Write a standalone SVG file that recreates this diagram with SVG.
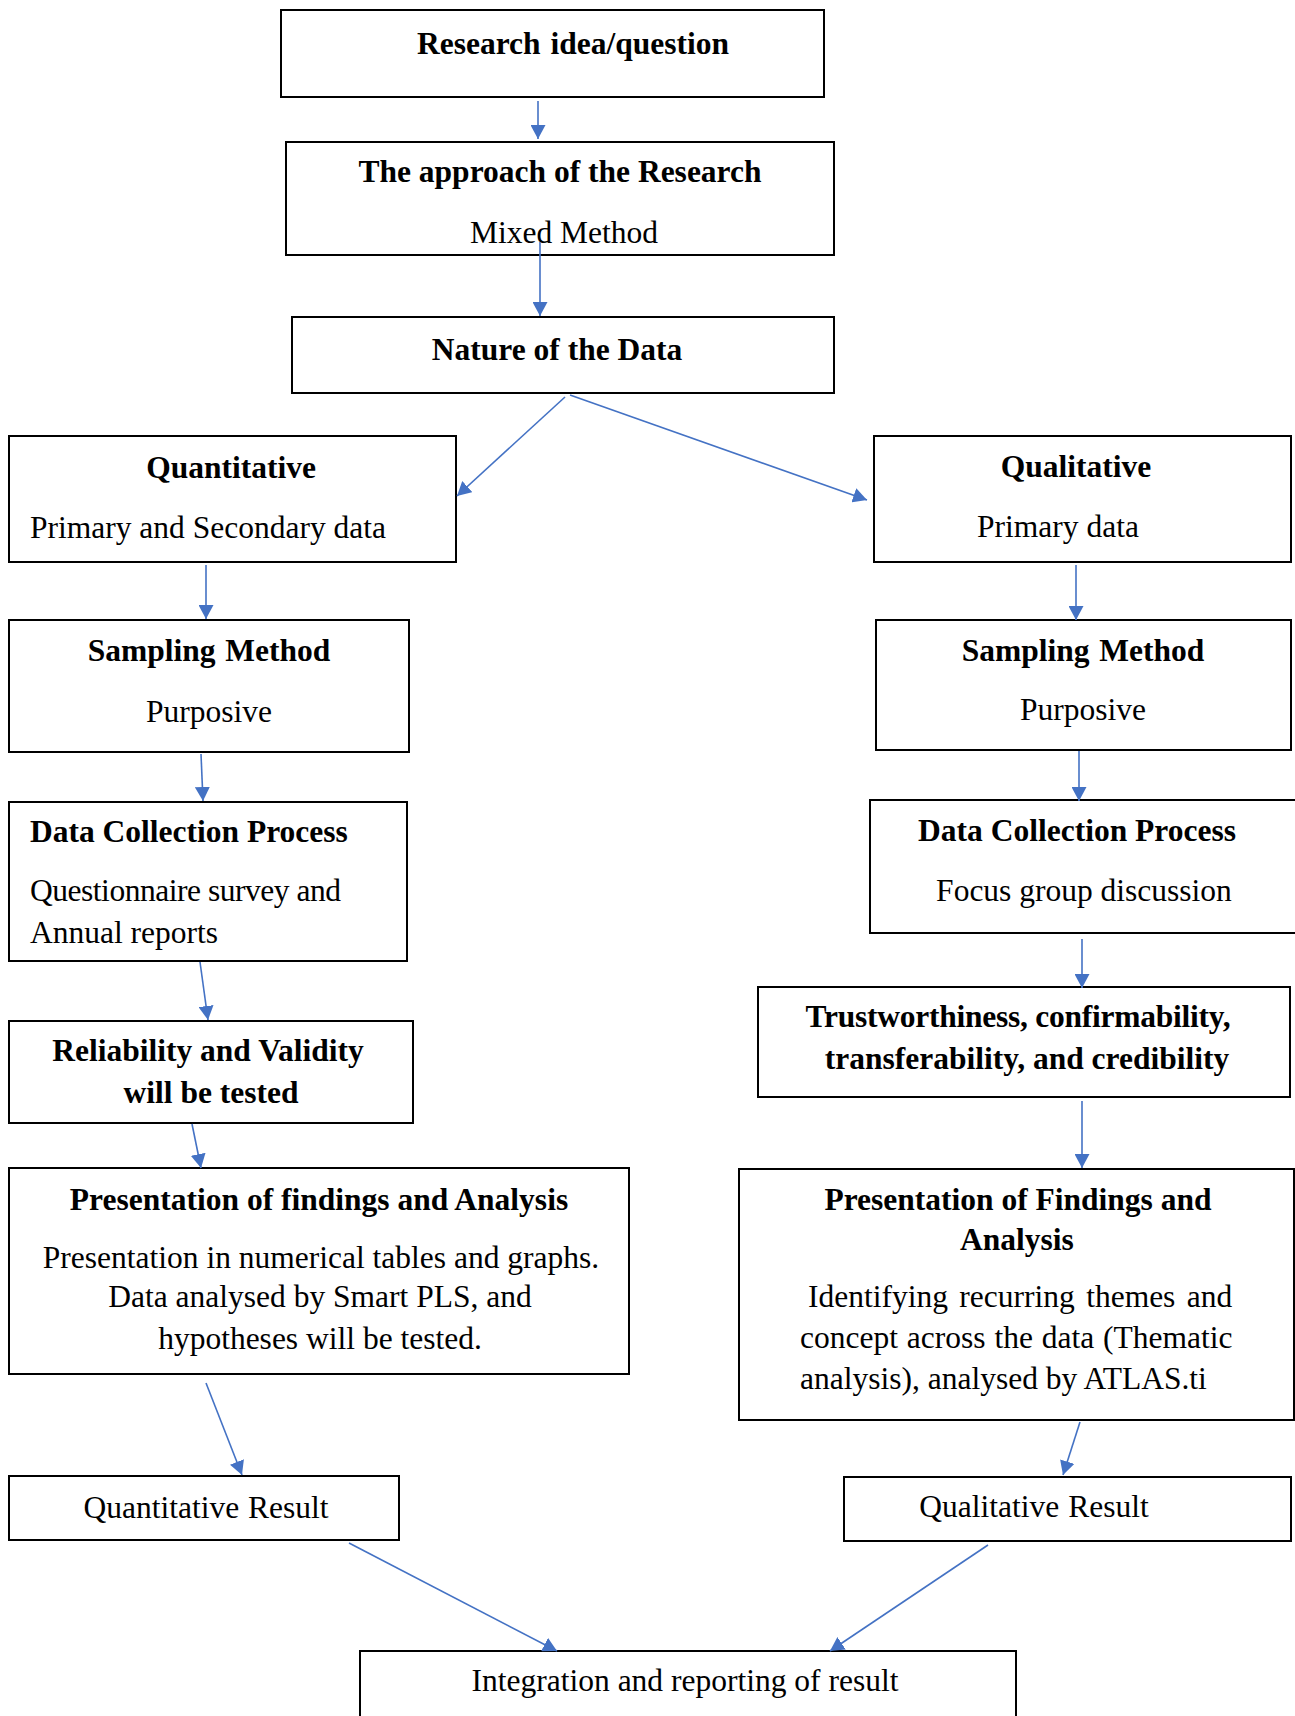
<svg xmlns="http://www.w3.org/2000/svg" width="1295" height="1716" viewBox="0 0 1295 1716">
<style>
  .box { fill: #ffffff; stroke: #000000; stroke-width: 2; }
  .t { font-family: "Liberation Serif", "Times New Roman", serif; font-size: 31.5px; fill: #000000; }
  .b { font-weight: bold; }
  .m { text-anchor: middle; }
  .conn line { stroke: #4472C4; stroke-width: 1.6; fill: none; marker-end: url(#arr); }
</style>
<defs>
  <marker id="arr" viewBox="0 0 14 15" refX="14" refY="7.5" markerWidth="14" markerHeight="15" markerUnits="userSpaceOnUse" orient="auto">
    <path d="M0,0 L14,7.5 L0,15 z" fill="#4472C4"/>
  </marker>
</defs>
<rect width="1295" height="1716" fill="#ffffff"/>

<g id="n-research">
  <rect class="box" x="281" y="10" width="543" height="87"/>
  <text class="t b m" x="573" y="54" word-spacing="2">Research idea/question</text>
</g>
<g id="n-approach">
  <rect class="box" x="286" y="142" width="548" height="113"/>
  <text class="t b m" x="560" y="182">The approach of the Research</text>
  <text class="t m" x="564" y="243">Mixed Method</text>
</g>
<g id="n-nature">
  <rect class="box" x="292" y="317" width="542" height="76"/>
  <text class="t b m" x="557" y="360">Nature of the Data</text>
</g>
<g id="n-quant">
  <rect class="box" x="9" y="436" width="447" height="126"/>
  <text class="t b m" x="231" y="478">Quantitative</text>
  <text class="t m" x="208" y="538">Primary and Secondary data</text>
</g>
<g id="n-qual">
  <rect class="box" x="874" y="436" width="417" height="126"/>
  <text class="t b m" x="1076" y="477">Qualitative</text>
  <text class="t m" x="1058" y="537">Primary data</text>
</g>
<g id="n-sampling-l">
  <rect class="box" x="9" y="620" width="400" height="132"/>
  <text class="t b m" x="209" y="661" word-spacing="2">Sampling Method</text>
  <text class="t m" x="209" y="722">Purposive</text>
</g>
<g id="n-sampling-r">
  <rect class="box" x="876" y="620" width="415" height="130"/>
  <text class="t b m" x="1083" y="661" word-spacing="2">Sampling Method</text>
  <text class="t m" x="1083" y="720">Purposive</text>
</g>
<g id="n-dc-l">
  <rect class="box" x="9" y="802" width="398" height="159"/>
  <text class="t b" x="30" y="842">Data Collection Process</text>
  <text class="t" x="30" y="901" textLength="311" lengthAdjust="spacing">Questionnaire survey and</text>
  <text class="t" x="30" y="943">Annual reports</text>
</g>
<g id="n-dc-r">
  <rect class="box" x="870" y="800" width="428" height="133"/>
  <text class="t b m" x="1077" y="841">Data Collection Process</text>
  <text class="t m" x="1084" y="901">Focus group discussion</text>
</g>
<g id="n-reliability">
  <rect class="box" x="9" y="1021" width="404" height="102"/>
  <text class="t b m" x="208" y="1061">Reliability and Validity</text>
  <text class="t b m" x="211" y="1103">will be tested</text>
</g>
<g id="n-trust">
  <rect class="box" x="758" y="987" width="532" height="110"/>
  <text class="t b m" x="1018" y="1027" textLength="425" lengthAdjust="spacing">Trustworthiness, confirmability,</text>
  <text class="t b m" x="1027" y="1069">transferability, and credibility</text>
</g>
<g id="n-pres-l">
  <rect class="box" x="9" y="1168" width="620" height="206"/>
  <text class="t b m" x="319" y="1210">Presentation of findings and Analysis</text>
  <text class="t m" x="321" y="1268">Presentation in numerical tables and graphs.</text>
  <text class="t m" x="320" y="1307">Data analysed by Smart PLS, and</text>
  <text class="t m" x="320" y="1349">hypotheses will be tested.</text>
</g>
<g id="n-pres-r">
  <rect class="box" x="739" y="1169" width="555" height="251"/>
  <text class="t b m" x="1018" y="1210">Presentation of Findings and</text>
  <text class="t b m" x="1017" y="1250">Analysis</text>
  <text class="t" x="808" y="1307" word-spacing="3.5">Identifying recurring themes and</text>
  <text class="t" x="800" y="1348" word-spacing="1">concept across the data (Thematic</text>
  <text class="t" x="800" y="1389">analysis), analysed by ATLAS.ti</text>
</g>
<g id="n-quant-result">
  <rect class="box" x="9" y="1476" width="390" height="64"/>
  <text class="t m" x="206" y="1518" word-spacing="1">Quantitative Result</text>
</g>
<g id="n-qual-result">
  <rect class="box" x="844" y="1477" width="447" height="64"/>
  <text class="t m" x="1034" y="1517" word-spacing="1">Qualitative Result</text>
</g>
<g id="n-integration">
  <rect class="box" x="360" y="1651" width="656" height="80"/>
  <text class="t m" x="685" y="1691">Integration and reporting of result</text>
</g>

<g id="connectors" class="conn">
  <line x1="538" y1="101" x2="538" y2="139"/>
  <line x1="540" y1="242" x2="540" y2="316"/>
  <line x1="565" y1="397" x2="457" y2="496"/>
  <line x1="570" y1="395" x2="867" y2="500"/>
  <line x1="206" y1="565" x2="206" y2="619"/>
  <line x1="1076" y1="565" x2="1076" y2="620"/>
  <line x1="201" y1="754" x2="203" y2="801"/>
  <line x1="1079" y1="751" x2="1079" y2="801"/>
  <line x1="200" y1="962" x2="208" y2="1020"/>
  <line x1="1082" y1="939" x2="1082" y2="988"/>
  <line x1="192" y1="1124" x2="201" y2="1168"/>
  <line x1="1082" y1="1101" x2="1082" y2="1168"/>
  <line x1="206" y1="1383" x2="242" y2="1475"/>
  <line x1="1080" y1="1422" x2="1063" y2="1475"/>
  <line x1="349" y1="1543" x2="557" y2="1651"/>
  <line x1="988" y1="1545" x2="830" y2="1651"/>
</g>
</svg>
